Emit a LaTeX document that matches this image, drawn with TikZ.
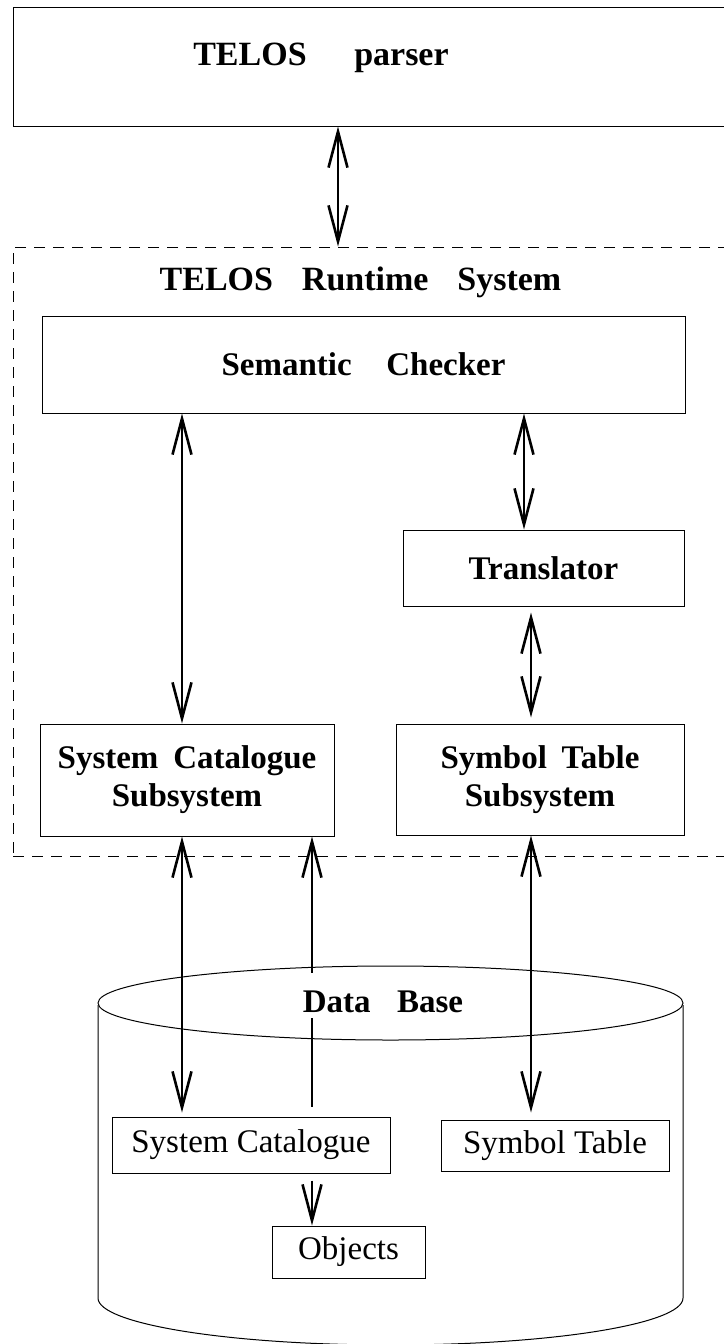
\documentclass[tikz,border=0pt]{standalone}
\usepackage{fontspec}
\setmainfont{Liberation Serif}
\usetikzlibrary{arrows.meta}

\begin{document}
\begin{tikzpicture}[x=0.5pt, y=-0.5pt,
  frame/.style={draw, line width=0.5pt, inner sep=0pt},
  box/.style={frame, font=\fontsize{16.5}{19}\selectfont\bfseries},
  leaf/.style={frame, font=\fontsize{16.5}{19}\selectfont},
  title/.style={inner sep=0pt, font=\fontsize{17}{19}\selectfont\bfseries},
  barb/.tip={Straight Barb[length=18pt, width=9.5pt]},
  link/.style={line width=1.3pt, barb-barb},
  uplink/.style={line width=1.3pt, barb-},
  downlink/.style={line width=1.3pt, -barb}]

\useasboundingbox (0,0) rectangle (723,1344);

% columns of the connectors
\coordinate (colP) at (338,0);
\coordinate (colA) at (182,0);
\coordinate (colB) at (312,0);
\coordinate (colC) at (524,0);
\coordinate (colD) at (531,0);

% parser
\node[frame, minimum width=373.5pt, minimum height=59.5pt] (parser) at (386.5,66.5) {};
\node[title, anchor=base] (parsertext) at (321,65) {TELOS\hspace{1.4em}parser};

% runtime system
\node[frame, dash pattern=on 5.5pt off 4pt, minimum width=373.5pt, minimum height=304.5pt] (rts) at (386.5,551.5) {};
\node[title, anchor=base] (rtstext) at (360.5,290) {TELOS\hspace{0.85em}Runtime\hspace{0.85em}System};

\node[box, minimum width=321.5pt, minimum height=48.5pt] (checker) at (363.5,364.5) {Semantic\hspace{1.05em}Checker\hspace{17pt}};
\node[box, minimum width=140.5pt, minimum height=38pt] (translator) at (543.5,568) {Translator};
\node[box, align=center, minimum width=147pt, minimum height=56pt] (sccs) at (187,780) {System\hspace{0.45em}Catalogue\\Subsystem};
\node[box, align=center, minimum width=144pt, minimum height=55.5pt] (stss) at (540,779.5) {Symbol\hspace{0.45em}Table\\Subsystem};

% data base
\draw[line width=0.5pt] (390.5,1003) ellipse [x radius=146.25pt, y radius=18.5pt];
\draw[line width=0.5pt] (98,1005) -- (98,1298) arc[start angle=180, end angle=360, x radius=146.25pt, y radius=23.5pt] -- (683,1005);

\node[leaf, minimum width=139pt, minimum height=28pt] (syscat) at (251,1145) {System Catalogue};
\node[leaf, minimum width=114pt, minimum height=25.5pt] (symtab) at (555,1145.5) {Symbol Table};
\node[leaf, minimum width=76.5pt, minimum height=26pt] (objects) at (348.5,1252) {Objects};

\draw[link] (parser.south -| colP) -- (rts.north -| colP);
\draw[link] (checker.south -| colA) -- (sccs.north -| colA);
\draw[link] (checker.south -| colC) -- (translator.north -| colC);
\draw[link, shorten <=3pt, shorten >=3pt] (translator.south -| colD) -- (stss.north -| colD);
\draw[link, shorten >=2pt] (sccs.south -| colA) -- (syscat.north -| colA);
\draw[uplink, shorten >=5pt] (sccs.south -| colB) -- (syscat.north -| colB);
\draw[link, shorten >=3.5pt] (stss.south -| colD) -- (symtab.north -| colD);
\draw[downlink, shorten <=3.5pt] (syscat.south -| colB) -- (objects.north -| colB);

\node[title, font=\fontsize{16.5}{19}\selectfont\bfseries, fill=white, anchor=base, text height=16.5pt, text depth=0pt, inner ysep=3pt, inner xsep=2pt] (dbtext) at (383,1012) {Data\hspace{0.8em}Base};

\end{tikzpicture}
\end{document}
